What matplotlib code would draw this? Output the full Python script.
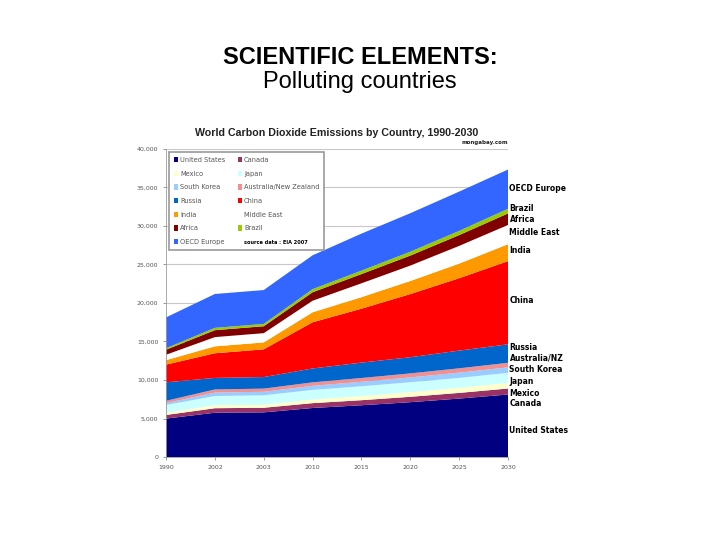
import matplotlib
matplotlib.use("Agg")
import matplotlib.pyplot as plt
from matplotlib.patches import Patch
import numpy as np

# Years on the category axis (equally spaced in the source chart)
years = ["1990", "2002", "2003", "2010", "2015", "2020", "2025", "2030"]

# CO2 emissions, million metric tons (stack order bottom -> top)
united_states = [4989, 5751, 5796, 6365, 6718, 7119, 7587, 8115]
canada = [470, 585, 600, 630, 660, 700, 740, 780]
mexico = [300, 385, 385, 470, 540, 600, 660, 730]
japan = [1000, 1200, 1230, 1250, 1270, 1290, 1290, 1300]
south_korea = [240, 450, 460, 530, 580, 630, 680, 720]
australia_nz = [300, 400, 410, 450, 490, 520, 560, 590]
russia = [2400, 1500, 1500, 1800, 2000, 2100, 2300, 2400]
china = [2300, 3200, 3600, 6000, 7000, 8200, 9400, 10800]
india = [580, 900, 900, 1300, 1500, 1700, 1900, 2200]
middle_east = [700, 1200, 1200, 1500, 1800, 2000, 2300, 2500]
africa = [650, 900, 900, 1100, 1200, 1300, 1400, 1500]
brazil = [200, 300, 300, 400, 450, 500, 550, 600]
oecd_europe = [4000, 4400, 4400, 4400, 4800, 5000, 5100, 5100]

series_names = ["United States", "Canada", "Mexico", "Japan", "South Korea",
                "Australia/New Zealand", "Russia", "China", "India",
                "Middle East", "Africa", "Brazil", "OECD Europe"]
series_values = [united_states, canada, mexico, japan, south_korea,
                 australia_nz, russia, china, india, middle_east, africa,
                 brazil, oecd_europe]
series_colors = ["#000080", "#993366", "#FFFFCC", "#CCFFFF", "#99CCFF",
                 "#F09090", "#0066CC", "#FF0000", "#FF9900", "#FFFFFF",
                 "#800000", "#99CC00", "#3366FF"]

# Right-hand labels (short names) and their vertical placement in data units
side_labels = ["United States", "Canada", "Mexico", "Japan", "South Korea",
               "Australia/NZ", "Russia", "China", "India", "Middle East",
               "Africa", "Brazil", "OECD Europe"]
side_label_y = [3400, 6900, 8300, 9800, 11300, 12900, 14200, 20300, 26800,
                29100, 30900, 32300, 34900]

fig = plt.figure(figsize=(7.2, 5.4), dpi=100, facecolor="white")

fig.text(0.5, 0.894, "SCIENTIFIC ELEMENTS:", ha="center", va="center",
         fontsize=17, fontweight="bold", family="Liberation Sans")
fig.text(0.5, 0.848, "Polluting countries", ha="center", va="center",
         fontsize=17, family="Liberation Sans")

ax = fig.add_axes([0.2306, 0.1537, 0.475, 0.5704])
x = np.arange(len(years))
ax.stackplot(x, *series_values, colors=series_colors, linewidth=0, zorder=2)
ax.set_xlim(0, len(years) - 1)
ax.set_ylim(0, 40000)
ax.set_yticks(range(0, 40001, 5000))
ax.set_yticklabels([f"{v:,}" for v in range(0, 40001, 5000)])
ax.set_xticks(x)
ax.set_xticklabels(years)
ax.tick_params(labelsize=4.5, labelcolor="#555555", color="#888888",
               length=2, width=0.6)
ax.grid(axis="y", color="#c8c8c8", linewidth=0.8, zorder=0)
for side in ("top", "right"):
    ax.spines[side].set_visible(False)
for side in ("left", "bottom"):
    ax.spines[side].set_color("#999999")
    ax.spines[side].set_linewidth(0.6)

ax.set_title("World Carbon Dioxide Emissions by Country, 1990-2030",
             fontsize=7.7, fontweight="bold", color="#222222", pad=9,
             family="Liberation Sans")
ax.text(1.0, 1.012, "mongabay.com", transform=ax.transAxes, ha="right",
        va="bottom", fontsize=4, fontweight="bold", color="#222222")

for name, yv in zip(side_labels, side_label_y):
    ax.text(len(years) - 1 + 0.03, yv, name, ha="left", va="center",
            fontsize=5.5, fontweight="bold", color="black",
            family=["Liberation Sans Narrow", "DejaVu Sans"], clip_on=False)

# Legend: two columns, filled column-first like the original
order_left = [0, 2, 4, 6, 8, 10, 12]
order_right = [1, 3, 5, 7, 9, 11]
handles, labels = [], []
for i in order_left + order_right:
    handles.append(Patch(facecolor=series_colors[i], edgecolor="none"))
    labels.append(series_names[i])
handles.append(Patch(facecolor="none", edgecolor="none"))
labels.append("source data : EIA 2007")
leg = ax.legend(handles, labels, ncol=2, loc="upper left",
                bbox_to_anchor=(0.0, 1.0), fontsize=4.8, frameon=True,
                fancybox=False, edgecolor="#999999", framealpha=1,
                handlelength=0.6, handleheight=0.8, handletextpad=0.3,
                columnspacing=1.9, labelspacing=1.15, borderpad=0.7)
leg.get_frame().set_linewidth(1.2)
for t in leg.get_texts():
    t.set_color("#555555")
leg.get_texts()[-1].set_fontweight("bold")
leg.get_texts()[-1].set_color("black")
leg.get_texts()[-1].set_fontsize(3.6)

fig.savefig("out.png", dpi=100, facecolor="white")
